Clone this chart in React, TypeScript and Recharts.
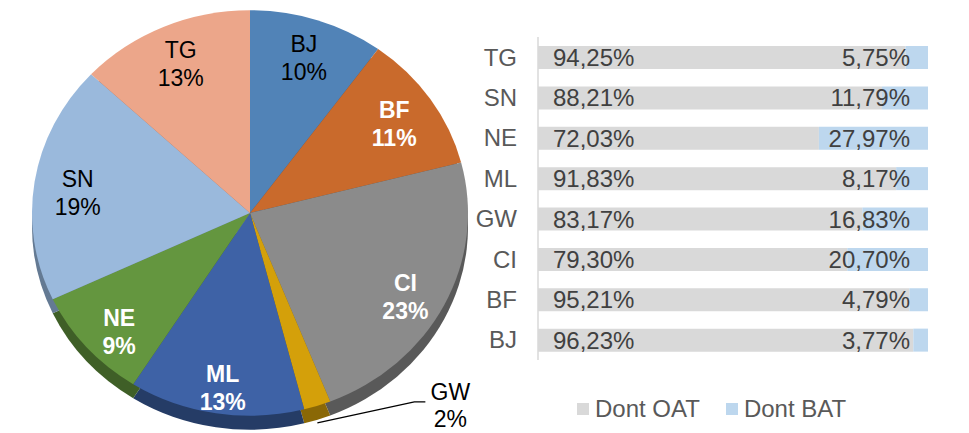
import React from 'react';
import { PieChart, Pie, Cell, BarChart, Bar, XAxis, YAxis, LabelList } from 'recharts';

const pieNames = ['BJ', 'BF', 'CI', 'GW', 'ML', 'NE', 'SN', 'TG'];
const pieValues = [10, 11, 23, 2, 13, 9, 19, 13];
const pieColors = ['#5183b7', '#c96a2c', '#8b8b8b', '#d4a00a', '#3e62a6', '#64963f', '#9ab9dc', '#eca68a'];
const pieSideColors = ['#33557a', '#7f421b', '#595959', '#8a6806', '#253c66', '#3f5f27', '#647a93', '#9a6b59'];
const pieLabelWhite = [false, true, true, false, true, true, false, false];

const barCategories = ['TG', 'SN', 'NE', 'ML', 'GW', 'CI', 'BF', 'BJ'];
const oatValues = [94.25, 88.21, 72.03, 91.83, 83.17, 79.3, 95.21, 96.23];
const batValues = [5.75, 11.79, 27.97, 8.17, 16.83, 20.7, 4.79, 3.77];
const seriesNames = ['Dont OAT', 'Dont BAT'];
const seriesColors = ['#d9d9d9', '#bdd7ee'];

const pieData = pieNames.map((n, i) => ({ name: n, value: pieValues[i] }));
const barData = barCategories.map((c, i) => ({ name: c, oat: oatValues[i], bat: batValues[i] }));

const FONT = '"Liberation Sans", Arial, sans-serif';
const RAD = Math.PI / 180;
const TILT = 0.93;
const PIE_CX = 250;
const PIE_CY = 233; // svg coords (layer offset -20)
const PIE_R = 218;

const fmt = (v: any) => Number(v).toFixed(2).replace('.', ',') + '%';

const renderPieLabel = (props: any) => {
  const { cx, cy, midAngle, outerRadius, index } = props;
  const white = pieLabelWhite[index];
  const fill = white ? '#ffffff' : '#000000';
  const weight = white ? 'bold' : 'normal';
  if (index === 3) {
    const ox = cx + outerRadius * Math.cos(-midAngle * RAD);
    const oy = cy + TILT * outerRadius * Math.sin(-midAngle * RAD) + 17;
    const ex = ox + 97;
    const ey = oy - 21;
    return (
      <g>
        <polyline points={`${ox},${oy} ${ex},${ey} ${ex + 11},${ey}`} fill="none" stroke="#000" strokeWidth={1.3} />
        <text x={ex + 36} y={ey - 10} textAnchor="middle" dominantBaseline="central" fill={fill} fontSize={23} fontFamily={FONT}>{pieNames[index]}</text>
        <text x={ex + 36} y={ey + 17} textAnchor="middle" dominantBaseline="central" fill={fill} fontSize={23} fontFamily={FONT}>{pieValues[index]}%</text>
      </g>
    );
  }
  const rx = outerRadius * 0.8;
  const ry = outerRadius * 0.78;
  const x = cx + rx * Math.cos(-midAngle * RAD);
  const y = cy + 7 + ry * Math.sin(-midAngle * RAD);
  return (
    <g>
      <text x={x} y={y - 14} textAnchor="middle" dominantBaseline="central" fill={fill} fontWeight={weight} fontSize={23} fontFamily={FONT}>{pieNames[index]}</text>
      <text x={x} y={y + 14} textAnchor="middle" dominantBaseline="central" fill={fill} fontWeight={weight} fontSize={23} fontFamily={FONT}>{pieValues[index]}%</text>
    </g>
  );
};

const PieLayer = ({ colors, top, withLabels, tilt }: any) => (
  <div
    style={{
      position: 'absolute',
      left: 0,
      top,
      width: 500,
      height: 480,
      transform: tilt ? `scaleY(${TILT})` : undefined,
      transformOrigin: `${PIE_CX}px ${PIE_CY}px`,
    }}
  >
    <PieChart width={500} height={480} margin={{ top: 0, right: 0, bottom: 0, left: 0 }}>
      <Pie
        data={pieData}
        dataKey="value"
        nameKey="name"
        cx={PIE_CX}
        cy={PIE_CY}
        outerRadius={PIE_R}
        startAngle={90}
        endAngle={-270}
        stroke="none"
        label={withLabels ? renderPieLabel : false}
        labelLine={false}
        isAnimationActive={false}
      >
        {pieData.map((d, i) => (
          <Cell key={d.name} fill={colors ? colors[i] : 'transparent'} />
        ))}
      </Pie>
    </PieChart>
  </div>
);

const LegendContent = () => (
  <div style={{ display: 'flex', alignItems: 'center', fontFamily: FONT, fontSize: 24, color: '#595959', whiteSpace: 'nowrap' }}>
    {seriesNames.map((n, i) => (
      <div key={n} style={{ display: 'flex', alignItems: 'center', marginRight: i === 0 ? 26 : 0 }}>
        <div style={{ width: 12, height: 12, background: seriesColors[i], marginRight: 6 }} />
        <span>{n}</span>
      </div>
    ))}
  </div>
);

export default function App() {
  return (
    <div style={{ position: 'absolute', left: 0, top: 0, width: 969, height: 433, background: '#fff', overflow: 'hidden' }}>
      <PieLayer colors={pieSideColors} top={-6} tilt />
      <PieLayer colors={pieColors} top={-20} tilt />
      <PieLayer colors={null} top={-20} withLabels />
      <div style={{ position: 'absolute', left: 470, top: 0 }}>
        <BarChart
          width={480}
          height={433}
          data={barData}
          layout="vertical"
          margin={{ top: 37, right: 22, bottom: 73, left: 0 }}
          barSize={23}
        >
          <XAxis type="number" domain={[0, 100]} hide />
          <YAxis
            type="category"
            dataKey="name"
            width={68}
            axisLine={{ stroke: '#d9d9d9', strokeWidth: 1.5 }}
            tickLine={false}
            tickSize={0}
            tickMargin={21}
            tick={{ fill: '#595959', fontSize: 24, fontFamily: FONT }}
          />
          <Bar dataKey="oat" stackId="a" fill={seriesColors[0]} isAnimationActive={false}>
            <LabelList dataKey="oat" position="insideLeft" offset={15} formatter={fmt} fill="#404040" fontSize={24} fontFamily={FONT} />
          </Bar>
          <Bar dataKey="bat" stackId="a" fill={seriesColors[1]} isAnimationActive={false}>
            <LabelList dataKey="bat" position="insideRight" offset={18} formatter={fmt} fill="#404040" fontSize={24} fontFamily={FONT} />
          </Bar>
        </BarChart>
      </div>
      <div style={{ position: 'absolute', left: 577, top: 395 }}>
        <LegendContent />
      </div>
    </div>
  );
}
